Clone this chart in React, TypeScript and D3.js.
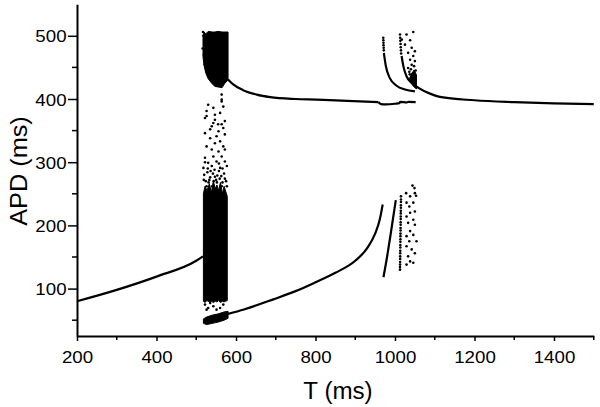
import React, { useEffect, useRef } from "react";
import * as d3 from "d3";

type Pt = [number, number];

// lower branch (T, APD)
const lowLeft: Pt[] = [[200, 80], [300, 98], [400, 119], [500, 144], [517, 151]];
const lowMid: Pt[] = [[580, 60], [620, 67], [694, 83], [750, 96], [800, 110], [850, 125], [900, 144], [930, 164], [950, 187], [962, 210], [969, 233]];
const lowSplit: Pt[] = [[971, 118], [980, 150], [990, 190], [1002, 240]];
const lowDotted: Pt[] = [
  [1015, 246], [1015, 241], [1015, 237], [1014.8, 232], [1014.8, 228], [1014.6, 223], [1014.6, 219],
  [1014.4, 214], [1014.4, 210], [1014.2, 205], [1014.2, 201], [1014, 196], [1014, 192], [1013.8, 187],
  [1013.8, 183], [1013.6, 178], [1013.6, 174], [1013.4, 169], [1013.4, 165], [1013.2, 160], [1013.2, 156],
  [1013, 151], [1013, 147], [1012.8, 142], [1012.8, 138], [1012.6, 134], [1012.6, 130],
];
const lowScatter: Pt[] = [
  [1044, 263], [1049, 259], [1050, 251], [1053, 247], [1028, 251], [1038, 246], [1029, 236], [1046, 236],
  [1036, 230], [1050, 222], [1038, 220], [1029, 214], [1046, 209], [1033, 204], [1050, 201], [1038, 191],
  [1029, 183], [1046, 185], [1054, 175], [1036, 175], [1029, 167], [1042, 162], [1050, 156], [1033, 151],
  [1038, 143], [1046, 141], [1029, 138],
];

// upper branch
const upLeft: Pt[] = [[580, 431], [593, 423], [618, 414], [652, 407], [686, 403], [750, 400], [803, 399], [880, 397], [958, 395]];
const upStep: Pt[] = [[958, 395], [965, 392], [975, 391.5], [1000, 392.5], [1011, 393.5], [1013, 395.5], [1030, 394.5], [1034, 395.5], [1052, 395]];
const curveA: Pt[] = [[972, 473], [977, 452], [987, 433], [1004, 421], [1025, 415], [1050, 412]];
const curveADots: Pt[] = [[970.5, 497], [970.7, 493], [971, 489], [971.2, 485], [971.5, 481], [971.8, 477]];
const curveB: Pt[] = [[1016.6, 468], [1021, 452], [1029, 436], [1042, 425.5], [1059, 417.6], [1088, 408.5], [1113, 403.3], [1200, 398], [1300, 395], [1400, 393], [1500, 392]];
const curveBDots: Pt[] = [[1012.6, 502], [1013, 497], [1013.5, 492], [1014, 487], [1014.5, 482], [1015, 477], [1015.5, 472]];
const upScatter: Pt[] = [
  [1029, 502], [1046, 506], [1017, 494], [1038, 493], [1025, 486], [1042, 481], [1050, 475.5],
  [1033, 473], [1046, 468], [1038, 462], [1050, 460], [1042, 454], [1033, 449], [1036, 443],
  [1040, 447], [1044, 440], [1048, 452], [1052, 445], [1047, 436], [1051, 430], [1037, 439],
];

// dense chaotic bands: T, upper APD, lower APD
const knotT = [1036, 1042, 1048, 1054];
const knotHi = [432, 440, 446, 438];
const knotLo = [428, 424, 419, 416];

const upCloudT = [517, 520, 524, 530, 540, 547, 555, 565, 572, 580];
const upCloudHi = [500, 506, 503, 507, 506, 506, 507, 506, 506, 506];
const upCloudLo = [466, 452, 441, 432, 424, 420, 419, 418, 425, 430];

const lowCloudT = [518, 522, 527, 533, 538, 543, 548, 552, 556, 561, 566, 570, 574, 578];
const lowCloudHi = [250, 262, 255, 266, 252, 270, 258, 264, 255, 268, 250, 262, 254, 246];
const lowCloudLo = [80, 78, 81, 79, 80, 78, 80, 79, 81, 78, 80, 79, 80, 81];

const blobT = [518, 526, 540, 555, 570, 580];
const blobHi = [52, 55, 58, 60, 63, 64];
const blobLo = [45, 43, 45, 47, 50, 53];

const chaosDots: Pt[] = [
  [530, 391], [564, 396], [568, 388], [526, 373], [547, 375], [560, 378], [543, 362], [564, 360],
  [522, 346], [535, 352], [556, 349], [568, 354], [535, 338], [551, 341], [572, 344], [547, 330],
  [560, 333], [526, 325], [568, 325], [539, 320], [556, 317], [572, 320], [522, 307], [543, 309],
  [564, 309], [530, 299], [551, 301], [572, 301], [518, 291], [539, 294], [560, 291], [577, 294],
  [520, 280], [528, 284], [535, 276], [542, 282], [550, 272], [557, 286], [563, 278], [570, 282],
  [575, 270], [524, 270], [546, 288], [566, 268], [531, 268], [553, 279],
  [519, 272], [526, 262], [533, 272], [540, 262], [547, 277], [552, 268], [559, 274], [564, 262],
  [572, 274], [577, 262], [529, 290], [557, 298], [566, 290], [544, 270], [536, 286], [522, 300],
  [564, 407], [564, 399], [543, 386], [526, 381], [522, 370], [547, 367], [572, 365], [555, 360], [539, 357],
  [518, 500], [520, 490], [516, 480], [519, 470], [521, 455], [525, 446], [530, 438], [517, 506], [522, 497],
  [522, 74.7], [530, 69.4], [535, 77.4], [543, 72], [526, 66.7], [560, 69.4], [568, 74.7], [551, 66.7],
];

const xTicks = [200, 400, 600, 800, 1000, 1200, 1400];
const xMinor = [300, 500, 700, 900, 1100, 1300, 1500];
const yTicks = [100, 200, 300, 400, 500];
const yMinor = [50, 150, 250, 350, 450];

const App = () => {
  const width = 600;
  const height = 407;
  const svgRef = useRef<SVGSVGElement>(null);

  useEffect(() => {
    if (!svgRef.current) return;
    const svg = d3.select(svgRef.current);
    svg.selectAll("*").remove();

    const x = d3.scaleLinear().domain([200, 1500]).range([77, 593.75]);
    const y = d3.scaleLinear().domain([25, 550]).range([336, 4.2]);

    const line = d3
      .line<Pt>()
      .x((d) => x(d[0]))
      .y((d) => y(d[1]))
      .curve(d3.curveMonotoneX);

    // dense bands
    const band = (t: number[], hi: number[], lo: number[]) => {
      const rows = t.map((v, i) => ({ t: v, hi: hi[i], lo: lo[i] }));
      svg
        .append("path")
        .datum(rows)
        .attr("fill", "#000")
        .attr("stroke", "#000")
        .attr("stroke-width", 1)
        .attr(
          "d",
          d3
            .area<{ t: number; hi: number; lo: number }>()
            .x((d) => x(d.t))
            .y0((d) => y(d.lo))
            .y1((d) => y(d.hi))
        );
    };
    band(upCloudT, upCloudHi, upCloudLo);
    band(lowCloudT, lowCloudHi, lowCloudLo);
    band(blobT, blobHi, blobLo);
    band(knotT, knotHi, knotLo);

    // curves
    [lowLeft, lowMid, lowSplit, upLeft, upStep, curveA, curveB].forEach((c) => {
      svg
        .append("path")
        .datum(c)
        .attr("fill", "none")
        .attr("stroke", "#000")
        .attr("stroke-width", 2.2)
        .attr("d", line);
    });

    // scattered points
    const dots = [...lowDotted, ...lowScatter, ...curveADots, ...curveBDots, ...upScatter, ...chaosDots];
    svg
      .append("g")
      .selectAll("circle")
      .data(dots)
      .join("circle")
      .attr("cx", (d) => x(d[0]))
      .attr("cy", (d) => y(d[1]))
      .attr("r", 1.3)
      .attr("fill", "#000");

    // x axis
    const xg = svg
      .append("g")
      .attr("transform", `translate(0,336)`)
      .call(d3.axisBottom(x).tickValues(xTicks).tickSize(5).tickSizeOuter(0).tickFormat(d3.format("d")));
    xg.append("g")
      .selectAll("line")
      .data(xMinor)
      .join("line")
      .attr("x1", (d) => x(d))
      .attr("x2", (d) => x(d))
      .attr("y1", 0)
      .attr("y2", 4)
      .attr("stroke", "#000")
      .attr("stroke-width", 1.5);

    // y axis
    const yg = svg
      .append("g")
      .attr("transform", `translate(77,0)`)
      .call(d3.axisLeft(y).tickValues(yTicks).tickSize(9).tickSizeOuter(0));
    yg.append("g")
      .selectAll("line")
      .data(yMinor)
      .join("line")
      .attr("y1", (d) => y(d))
      .attr("y2", (d) => y(d))
      .attr("x1", 0)
      .attr("x2", -5)
      .attr("stroke", "#000")
      .attr("stroke-width", 1.5);

    [xg, yg].forEach((g) => {
      g.selectAll("path").attr("stroke", "#000").attr("stroke-width", 2);
      g.selectAll(".tick line").attr("stroke", "#000").attr("stroke-width", 1.5);
      g.selectAll(".tick text")
        .attr("fill", "#000")
        .style("font-family", "'Liberation Sans', Arial, sans-serif")
        .style("font-size", "17px");
    });
    xg.selectAll(".tick text").attr("dy", "0").attr("y", 27).attr("transform", "scale(1.1,1)");
    yg.selectAll(".tick text").attr("x", -9.5).attr("dy", "0.36em").attr("transform", "scale(1.1,1)");

    // axis titles
    svg
      .append("text")
      .attr("transform", `translate(338,399) scale(1.05,1)`)
      .attr("text-anchor", "middle")
      .style("font-family", "'Liberation Sans', Arial, sans-serif")
      .style("font-size", "23px")
      .attr("fill", "#000")
      .text("T (ms)");

    svg
      .append("text")
      .attr("transform", `translate(27,171) rotate(-90) scale(1.1,1)`)
      .attr("text-anchor", "middle")
      .style("font-family", "'Liberation Sans', Arial, sans-serif")
      .style("font-size", "23px")
      .attr("fill", "#000")
      .text("APD (ms)");
  }, []);

  return (
    <div style={{ position: "absolute", left: 0, top: 0 }}>
      <svg ref={svgRef} width={width} height={height} style={{ display: "block", background: "#fff" }}></svg>
    </div>
  );
};

export default App;
